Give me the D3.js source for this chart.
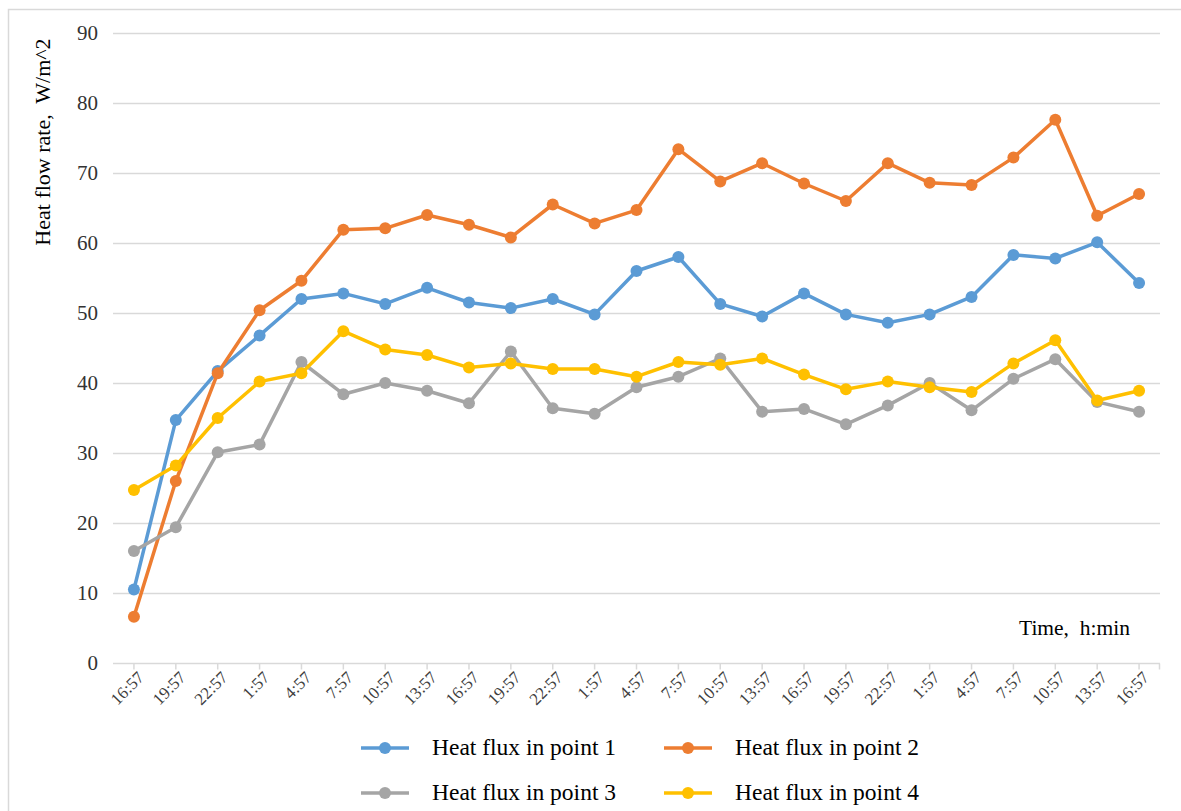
<!DOCTYPE html>
<html><head><meta charset="utf-8">
<script src="https://cdn.jsdelivr.net/npm/d3@7"></script>
<style>body{margin:0;background:#fff;} text{font-family:"Liberation Serif","Times New Roman",serif;}</style>
</head><body>
<svg id="chart" width="1181" height="811"></svg>
<script>
const categories = ["16:57","19:57","22:57","1:57","4:57","7:57","10:57","13:57","16:57","19:57","22:57","1:57","4:57","7:57","10:57","13:57","16:57","19:57","22:57","1:57","4:57","7:57","10:57","13:57","16:57"];
const point1 = [10.5,34.7,41.7,46.8,52.0,52.8,51.3,53.6,51.5,50.7,52.0,49.8,56.0,58.0,51.3,49.5,52.8,49.8,48.6,49.8,52.3,58.3,57.8,60.1,54.3];
const point2 = [6.6,26.0,41.4,50.4,54.6,61.9,62.1,64.0,62.6,60.8,65.5,62.8,64.7,73.4,68.8,71.4,68.5,66.0,71.4,68.6,68.3,72.2,77.6,63.9,67.0];
const point3 = [16.0,19.4,30.1,31.2,43.0,38.4,40.0,38.9,37.1,44.5,36.4,35.6,39.4,40.9,43.5,35.9,36.3,34.1,36.8,40.0,36.1,40.6,43.4,37.3,35.9];
const point4 = [24.7,28.2,35.0,40.2,41.4,47.4,44.8,44.0,42.2,42.8,42.0,42.0,40.9,43.0,42.6,43.5,41.2,39.1,40.2,39.4,38.7,42.8,46.1,37.5,38.9];
const seriesNames = ["Heat flux in point 1","Heat flux in point 2","Heat flux in point 3","Heat flux in point 4"];
const colors = ["#5B9BD5","#ED7D31","#A5A5A5","#FFC000"];
const yTicks = [0,10,20,30,40,50,60,70,80,90];

const series = [point1, point2, point3, point4].map((v,i)=>({name:seriesNames[i], color:colors[i], values:v}));

const svg = d3.select("#chart");
const L = 113, R = 1160, T = 33, B = 663;

// outer chart border
svg.append("rect").attr("x",8.5).attr("y",9.5).attr("width",1200).attr("height",900)
  .attr("fill","none").attr("stroke","#D9D9D9").attr("stroke-width",1.5);

const idx = d3.range(categories.length);
const x = d3.scaleBand().domain(idx).range([L,R]);
const cx = i => x(i) + x.bandwidth()/2;
const y = d3.scaleLinear().domain([0,90]).range([B,T]);

// gridlines
svg.append("g").selectAll("line").data(yTicks.filter(d=>d>0)).join("line")
  .attr("x1",L).attr("x2",R).attr("y1",d=>Math.round(y(d))+0.5).attr("y2",d=>Math.round(y(d))+0.5)
  .attr("stroke","#D9D9D9").attr("stroke-width",1.5);

// y axis labels
const yAxis = d3.axisLeft(y).tickValues(yTicks).tickSize(0).tickPadding(0);
const gy = svg.append("g").attr("transform",`translate(${L-15},0)`).call(yAxis);
gy.select(".domain").remove();
gy.selectAll("text").attr("font-family","Liberation Serif").attr("font-size",21).attr("fill","#333");

// x axis
const xAxis = d3.axisBottom(x).tickValues(idx).tickSize(6).tickFormat(i=>categories[i]);
const gx = svg.append("g").attr("transform",`translate(0,${B+0.5})`).call(xAxis);
gx.select(".domain").attr("stroke","#D9D9D9").attr("stroke-width",1.5).attr("d",`M${L},0H${R}`);
gx.selectAll(".tick line").attr("stroke","#D9D9D9").attr("stroke-width",1.5);
gx.append("line").attr("x1",R-0.5).attr("x2",R-0.5).attr("y1",0).attr("y2",6).attr("stroke","#D9D9D9").attr("stroke-width",1.5);
gx.selectAll(".tick text")
  .attr("font-family","Liberation Serif").attr("font-size",17).attr("fill","#404040")
  .attr("text-anchor","end").attr("dy",0).attr("y",0)
  .attr("transform","translate(11,15) rotate(-45)");

// y axis title
svg.append("text").attr("transform",`translate(50,142) rotate(-90)`)
  .attr("text-anchor","middle").attr("font-size",22).attr("fill","#000")
  .attr("xml:space","preserve").text("Heat flow rate,  W/m^2");

// x axis title
svg.append("text").attr("x",1019).attr("y",635).attr("font-size",21.5).attr("fill","#000")
  .attr("xml:space","preserve").text("Time,  h:min");

// lines
const line = d3.line().x((d,i)=>cx(i)).y(d=>y(d));
const g = svg.append("g");
series.forEach(s=>{
  g.append("path").datum(s.values).attr("d",line).attr("fill","none")
    .attr("stroke",s.color).attr("stroke-width",3.5).attr("stroke-linejoin","round");
  g.append("g").selectAll("circle").data(s.values).join("circle")
    .attr("cx",(d,i)=>cx(i)).attr("cy",d=>y(d)).attr("r",6).attr("fill",s.color);
});

// legend
const legPos = [[361,748],[664,748],[361,793],[664,793]];
series.forEach((s,i)=>{
  const [lx,ly] = legPos[i];
  const lg = svg.append("g").attr("transform",`translate(${lx},${ly})`);
  lg.append("line").attr("x1",0).attr("x2",48).attr("y1",0).attr("y2",0).attr("stroke",s.color).attr("stroke-width",3.5);
  lg.append("circle").attr("cx",24).attr("cy",0).attr("r",6).attr("fill",s.color);
  lg.append("text").attr("x",71).attr("y",7).attr("font-size",23.5).attr("fill","#000").text(s.name);
});
</script>
</body></html>
